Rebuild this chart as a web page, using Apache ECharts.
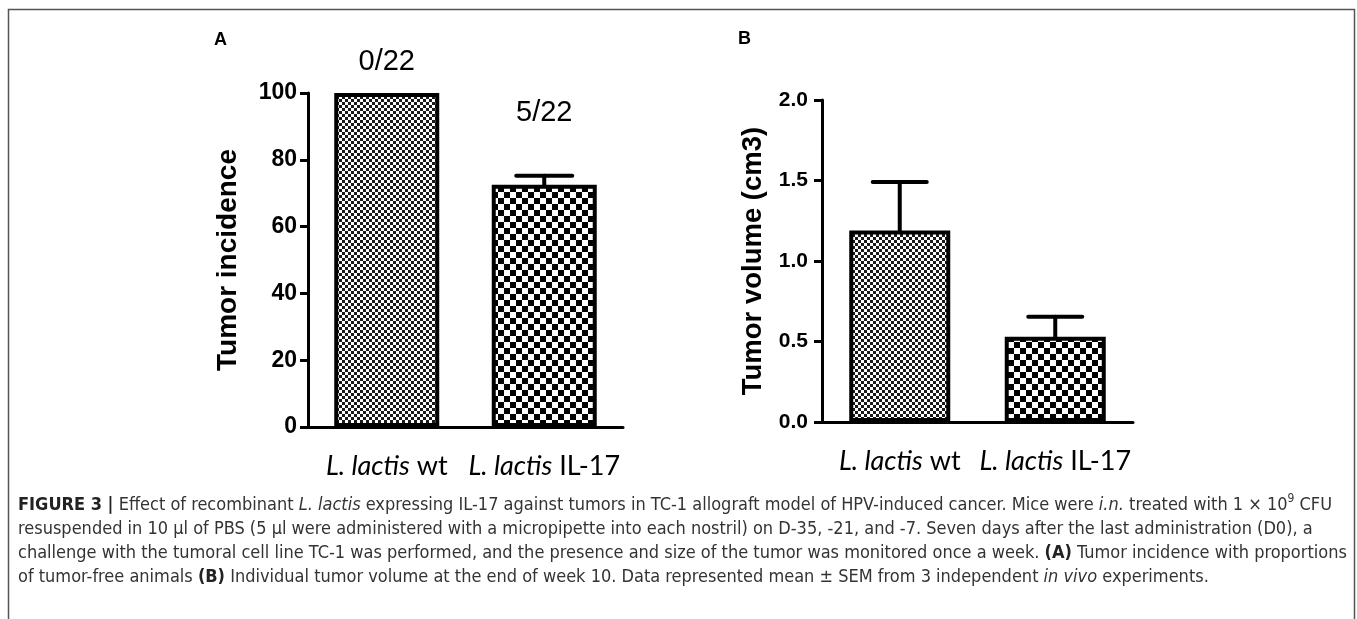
<!DOCTYPE html>
<html>
<head>
<meta charset="utf-8">
<script src="https://cdn.jsdelivr.net/npm/echarts@6/dist/echarts.min.js"></script>
<style>
html,body{margin:0;padding:0;background:#fff;}
#c{width:1357px;height:619px;}
</style>
</head>
<body>
<div id="c"></div>
<script>
// ---- data ----
const categories = ['L. lactis wt', 'L. lactis IL-17'];
const incidence = [100, 72.5];
const incidenceSem = [0, 2.7];
const tumorFree = ['0/22', '5/22'];
const volume = [1.19, 0.53];
const volumeSem = [0.30, 0.124];
const incidenceTicks = [0, 20, 40, 60, 80, 100];
const volumeTicks = ['0.0', '0.5', '1.0', '1.5', '2.0'];

// ---- patterns ----
function checker(cell, dark, light) {
  const c = document.createElement('canvas');
  c.width = cell * 2; c.height = cell * 2;
  const g = c.getContext('2d');
  g.fillStyle = light; g.fillRect(0, 0, c.width, c.height);
  g.fillStyle = dark;
  g.fillRect(0, 0, cell, cell);
  g.fillRect(cell, cell, cell, cell);
  return c;
}
const fine = { image: checker(3, '#1a1a1a', '#ffffff'), repeat: 'repeat' };
const coarse = { image: checker(6, '#000000', '#ffffff'), repeat: 'repeat' };
const barFills = [fine, coarse];

const boldFont = 'Liberation Sans, Arial, sans-serif';
const catFont = 'Lato, Open Sans, sans-serif';
const capFont = 'Liberation Sans Narrow, DejaVu Sans Condensed, Liberation Sans, sans-serif';

function catLabel(v) {
  return v.replace('L. lactis', '{i|L. lactis}');
}
const catRich = { i: { fontStyle: 'italic', fontFamily: catFont, fontSize: 27, color: '#000' } };

function errorSeries(xi, yi, vals, sems, half) {
  return {
    type: 'custom', xAxisIndex: xi, yAxisIndex: yi, z: 5,
    data: vals.map((v, i) => [i, v, sems[i]]),
    encode: { x: 0, y: 1 },
    renderItem: function (params, api) {
      const v = api.value(1), s = api.value(2);
      if (!s) return null;
      const base = api.coord([api.value(0), v]);
      const top = api.coord([api.value(0), v + s]);
      const st = { stroke: '#000', lineWidth: 4, lineCap: 'round' };
      return { type: 'group', children: [
        { type: 'line', shape: { x1: base[0], y1: base[1], x2: top[0], y2: top[1] }, style: st },
        { type: 'line', shape: { x1: top[0] - half, y1: top[1], x2: top[0] + half, y2: top[1] }, style: st }
      ]};
    }
  };
}

const labelLift = [31, 63];

const option = {
  animation: false,
  backgroundColor: '#fff',
  grid: [
    { left: 308, top: 93, width: 315, height: 334 },
    { left: 822, top: 100, width: 311, height: 322 }
  ],
  xAxis: [0, 1].map(g => ({
    gridIndex: g, type: 'category', data: categories,
    axisLine: { lineStyle: { color: '#000', width: 3 } },
    axisTick: { alignWithLabel: true, length: g ? 10 : 9, lineStyle: { color: '#000', width: 3 } },
    axisLabel: { interval: 0, hideOverlap: false, margin: 26, color: '#000', fontFamily: catFont, fontSize: 27, formatter: catLabel, rich: catRich }
  })),
  yAxis: [
    {
      gridIndex: 0, type: 'value', min: 0, max: 100, interval: 20,
      axisLine: { show: true, lineStyle: { color: '#000', width: 3 } },
      axisTick: { show: true, length: 8, lineStyle: { color: '#000', width: 3 } },
      splitLine: { show: false },
      axisLabel: { color: '#000', fontWeight: 'bold', fontSize: 23, fontFamily: boldFont, margin: 11,
        formatter: v => String(incidenceTicks[Math.round(v / 20)]) },
      name: 'Tumor incidence', nameLocation: 'middle', nameGap: 66,
      nameTextStyle: { color: '#000', fontWeight: 'bold', fontSize: 28, fontFamily: boldFont }
    },
    {
      gridIndex: 1, type: 'value', min: 0, max: 2, interval: 0.5,
      axisLine: { show: true, lineStyle: { color: '#000', width: 3 } },
      axisTick: { show: true, length: 8, lineStyle: { color: '#000', width: 3 } },
      splitLine: { show: false },
      axisLabel: { color: '#000', fontWeight: 'bold', fontSize: 21, fontFamily: boldFont, margin: 14,
        formatter: v => volumeTicks[Math.round(v / 0.5)] },
      name: 'Tumor volume (cm3)', nameLocation: 'middle', nameGap: 55,
      nameTextStyle: { color: '#000', fontWeight: 'bold', fontSize: 27.5, fontFamily: boldFont }
    }
  ],
  series: [
    {
      type: 'bar', xAxisIndex: 0, yAxisIndex: 0, barWidth: 105,
      data: incidence.map((v, i) => ({ value: v, itemStyle: { color: barFills[i], borderColor: '#000', borderWidth: 4 } }))
    },
    {
      type: 'bar', xAxisIndex: 1, yAxisIndex: 1, barWidth: 101,
      data: volume.map((v, i) => ({ value: v, itemStyle: { color: barFills[i], borderColor: '#000', borderWidth: 4 } }))
    },
    errorSeries(0, 0, incidence, incidenceSem, 28),
    errorSeries(1, 1, volume, volumeSem, 27),
    {
      type: 'custom', xAxisIndex: 0, yAxisIndex: 0, z: 6,
      data: incidence.map((v, i) => [i, v + incidenceSem[i]]),
      encode: { x: 0, y: 1 },
      clip: false,
      renderItem: function (params, api) {
        const p = api.coord([api.value(0), api.value(1)]);
        return { type: 'text', x: p[0], y: p[1] - labelLift[params.dataIndex],
          style: { text: tumorFree[params.dataIndex], fill: '#000', fontSize: 29, fontFamily: 'Liberation Sans, Arial, sans-serif', align: 'center', verticalAlign: 'middle' } };
      }
    }
  ],
  graphic: [
    { type: 'polyline', shape: { points: [[8.5, 619], [8.5, 9.5], [1354.5, 9.5], [1354.5, 619]] }, style: { stroke: '#555', lineWidth: 1.5, fill: null } },
    { type: 'text', left: 214, top: 31, style: { text: 'A', fontWeight: 'bold', fontSize: 18, fontFamily: boldFont, fill: '#000' } },
    { type: 'text', left: 738, top: 30, style: { text: 'B', fontWeight: 'bold', fontSize: 18, fontFamily: boldFont, fill: '#000' } },
    {
      type: 'text', left: 18, top: 493,
      style: {
        text:
          '{b|FIGURE 3 |} Effect of recombinant {i|L. lactis} expressing IL-17 against tumors in TC-1 allograft model of HPV-induced cancer. Mice were {i|i.n.} treated with 1 \u00d7 10{sup|9} CFU\n' +
          'resuspended in 10 \u03bcl of PBS (5 \u03bcl were administered with a micropipette into each nostril) on D-35, -21, and -7. Seven days after the last administration (D0), a\n' +
          'challenge with the tumoral cell line TC-1 was performed, and the presence and size of the tumor was monitored once a week. {b|(A)} Tumor incidence with proportions\n' +
          'of tumor-free animals {b|(B)} Individual tumor volume at the end of week 10. Data represented mean \u00b1 SEM from 3 independent {i|in vivo} experiments.',
        fontFamily: capFont, fontSize: 18, lineHeight: 24, fill: '#333',
        rich: {
          b: { fontWeight: 'bold', fontFamily: capFont, fontSize: 18, lineHeight: 24, fill: '#222' },
          i: { fontStyle: 'italic', fontFamily: capFont, fontSize: 18, lineHeight: 24, fill: '#333' },
          sup: { fontFamily: capFont, fontSize: 12, lineHeight: 14, verticalAlign: 'top', fill: '#333' }
        }
      }
    }
  ]
};

const chart = echarts.init(document.getElementById('c'), null, { renderer: 'canvas' });
chart.setOption(option);
</script>
</body>
</html>
